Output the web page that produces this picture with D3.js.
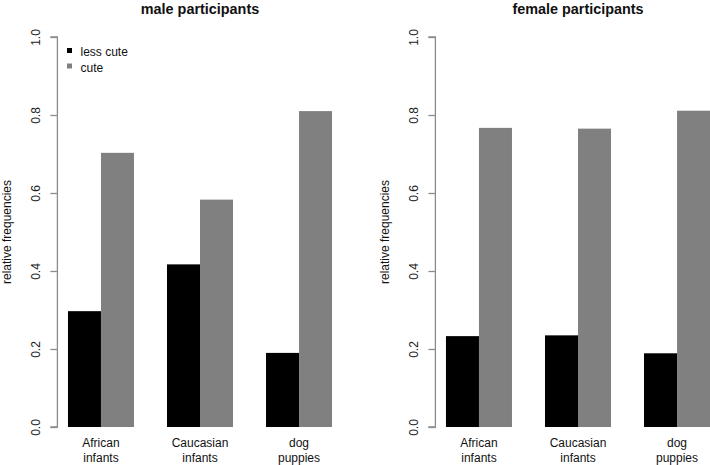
<!DOCTYPE html>
<html>
<head>
<meta charset="utf-8">
<script src="https://cdn.jsdelivr.net/npm/d3@7"></script>
<style>
  body { margin: 0; background: #fff; }
  svg { display: block; font-family: "Liberation Sans", Arial, Helvetica, sans-serif; }
</style>
</head>
<body>
<svg id="chart" width="710" height="465"></svg>
<script>
const categories = [["African", "infants"], ["Caucasian", "infants"], ["dog", "puppies"]];
const seriesNames = ["less cute", "cute"];
const maleLessCute = [0.297, 0.417, 0.190];
const maleCute = [0.703, 0.583, 0.810];
const femaleLessCute = [0.233, 0.235, 0.189];
const femaleCute = [0.767, 0.765, 0.811];
const yTicks = [0, 0.2, 0.4, 0.6, 0.8, 1.0];
const titles = ["male participants", "female participants"];
const colors = ["#000000", "#808080"];

const svg = d3.select("#chart");
const panels = [
  { title: titles[0], less: maleLessCute, cute: maleCute, left: 57.4 },
  { title: titles[1], less: femaleLessCute, cute: femaleCute, left: 435.4 }
];
const plotW = 285.2, plotTop = 37, plotBottom = 427;

panels.forEach(p => {
  // R barplot user coords: groups at [1,3],[4,6],[7,9]; xlim 0.68..9.32
  const x = d3.scaleLinear().domain([0.68, 9.32]).range([p.left, p.left + plotW]);
  const y = d3.scaleLinear().domain([0, 1]).range([plotBottom, plotTop]);
  const g = svg.append("g");

  const bars = [];
  categories.forEach((c, i) => {
    const start = 1 + i * 3;
    bars.push({ x0: start, x1: start + 1, v: p.less[i], s: 0 });
    bars.push({ x0: start + 1, x1: start + 2, v: p.cute[i], s: 1 });
  });
  g.selectAll("rect.bar").data(bars).join("rect")
    .attr("class", "bar")
    .attr("x", d => x(d.x0))
    .attr("width", d => x(d.x1) - x(d.x0))
    .attr("y", d => y(d.v))
    .attr("height", d => y(0) - y(d.v))
    .attr("fill", d => colors[d.s]);

  // y axis
  const axis = d3.axisLeft(y).tickValues(yTicks).tickFormat(d3.format(".1f")).tickSize(7).tickPadding(0);
  const ag = g.append("g").attr("transform", `translate(${p.left},0)`).call(axis);
  ag.select(".domain").attr("stroke", "#8c8c8c").attr("stroke-width", 1.3).attr("d", `M-7,${y(0)}H0V${y(1)}H-7`);
  ag.selectAll(".tick line").attr("stroke", "#8c8c8c").attr("stroke-width", 1.3);
  ag.selectAll(".tick text")
    .attr("x", 0).attr("dy", null)
    .attr("transform", `translate(-21,0) rotate(-90)`)
    .attr("text-anchor", "middle")
    .attr("dominant-baseline", "central")
    .attr("fill", "#222")
    .attr("font-size", 12)
    .attr("font-family", "Liberation Sans, Arial, sans-serif");

  // y label
  g.append("text")
    .attr("transform", `translate(${p.left - 50},${(plotTop + plotBottom) / 2}) rotate(-90)`)
    .attr("text-anchor", "middle")
    .attr("dominant-baseline", "central")
    .attr("font-size", 12)
    .attr("fill", "#111")
    .text("relative frequencies");

  // x labels
  categories.forEach((c, i) => {
    const cx = x(2 + i * 3);
    c.forEach((line, j) => {
      g.append("text")
        .attr("x", cx).attr("y", 447 + j * 15)
        .attr("text-anchor", "middle")
        .attr("font-size", 12)
        .attr("fill", "#111")
        .text(line);
    });
  });

  // title
  g.append("text")
    .attr("x", p.left + plotW / 2).attr("y", 13.5)
    .attr("text-anchor", "middle")
    .attr("font-size", 14.4)
    .attr("font-weight", "bold")
    .attr("fill", "#111")
    .text(p.title);
});

// legend (male panel)
const lg = svg.append("g");
seriesNames.forEach((s, i) => {
  lg.append("rect").attr("x", 67).attr("y", 48 + i * 15.5).attr("width", 5).attr("height", 5).attr("fill", colors[i]);
  lg.append("text").attr("x", 80.5).attr("y", 52 + i * 15.5)
    .attr("dominant-baseline", "central")
    .attr("font-size", 12).attr("fill", "#111").text(s);
});
</script>
</body>
</html>
